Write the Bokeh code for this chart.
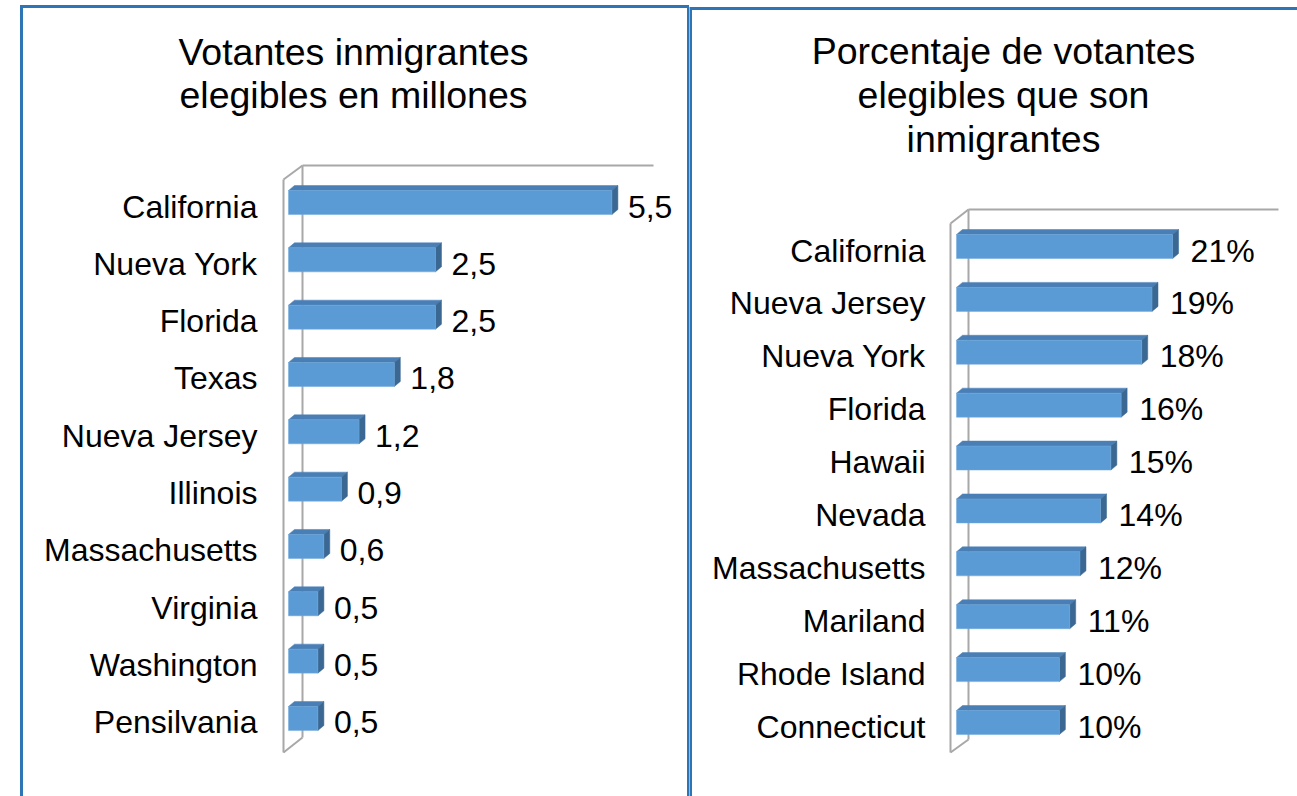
from bokeh.plotting import figure
from bokeh.layouts import row
from bokeh.models import Range1d
from bokeh.core.properties import value
from bokeh.embed import file_html
from bokeh.resources import INLINE

# ---------------- data ----------------
left_title = ["Votantes inmigrantes", "elegibles en millones"]
left_states = ["California", "Nueva York", "Florida", "Texas", "Nueva Jersey",
               "Illinois", "Massachusetts", "Virginia", "Washington", "Pensilvania"]
left_values = [5.5, 2.5, 2.5, 1.8, 1.2, 0.9, 0.6, 0.5, 0.5, 0.5]
left_labels = ["5,5", "2,5", "2,5", "1,8", "1,2", "0,9", "0,6", "0,5", "0,5", "0,5"]

right_title = ["Porcentaje de votantes", "elegibles que son", "inmigrantes"]
right_states = ["California", "Nueva Jersey", "Nueva York", "Florida", "Hawaii",
                "Nevada", "Massachusetts", "Mariland", "Rhode Island", "Connecticut"]
right_values = [21, 19, 18, 16, 15, 14, 12, 11, 10, 10]
right_labels = ["21%", "19%", "18%", "16%", "15%", "14%", "12%", "11%", "10%", "10%"]

# ---------------- style ----------------
FONT = value("Liberation Sans")
FRONT = "#5B9BD5"
TOP = "#4A7FB6"
SIDE = "#3B6893"
FRAME = "#A8A8A8"
BORDER = "#2E75B6"
PAGE_TOP, PAGE_BOTTOM = 0, 796


def panel(fig_left, fig_right, X0, K, Y0, S, states, values, labels,
          label_right_px, value_offset, title_lines, title_cx, title_ys,
          frame_segments, border_pts):
    W = fig_right - fig_left
    p = figure(width=W, height=PAGE_BOTTOM - PAGE_TOP,
               x_range=Range1d((fig_left - X0) / K, (fig_right - X0) / K),
               y_range=Range1d((PAGE_BOTTOM - Y0) / S, (PAGE_TOP - Y0) / S),
               output_backend="svg", toolbar_location=None, min_border=0,
               x_axis_type=None, y_axis_type=None)
    p.outline_line_color = None
    p.background_fill_color = "white"
    p.border_fill_color = "white"

    fx = lambda px: (px - X0) / K
    fy = lambda py: (py - Y0) / S

    # panel border
    p.line([fx(x) for x, _ in border_pts], [fy(y) for _, y in border_pts],
           line_color=BORDER, line_width=3, line_join="miter")

    # 3-D frame walls
    for (x1, y1), (x2, y2) in frame_segments:
        p.line([fx(x1), fx(x2)], [fy(y1), fy(y2)], line_color=FRAME, line_width=2)

    n = len(values)
    idx = list(range(n))
    ft = [i - 16 / S for i in idx]
    fb = [i + 8 / S for i in idx]
    dx = 6 / K
    dy = 5 / S

    top_xs = [[0, dx, v + dx, v] for v in values]
    top_ys = [[t, t - dy, t - dy, t] for t in ft]
    side_xs = [[v, v + dx, v + dx, v] for v in values]
    side_ys = [[t, t - dy, b - dy, b] for t, b in zip(ft, fb)]
    p.patches(top_xs, top_ys, fill_color=TOP, line_color=TOP, line_width=0.5)
    p.patches(side_xs, side_ys, fill_color=SIDE, line_color=SIDE, line_width=0.5)
    p.quad(left=[0] * n, right=values, top=ft, bottom=fb,
           fill_color=FRONT, line_color="#6FA8DC", line_width=0.5)

    # category labels
    p.text(x=[fx(label_right_px)] * n, y=idx, text=states, text_align="right",
           text_baseline="middle", text_font=FONT, text_font_size=value("32px"),
           text_color="black")
    # value labels
    p.text(x=values, y=idx, text=labels, x_offset=value_offset, text_align="left",
           text_baseline="middle", text_font=FONT, text_font_size=value("32px"),
           text_color="black")
    # title
    p.text(x=[fx(title_cx)] * len(title_lines), y=[fy(y) for y in title_ys],
           text=title_lines, text_align="center", text_baseline="middle",
           text_font=FONT, text_font_size=value("37.5px"), text_color="black")
    return p


p1 = panel(0, 689, 288, 58.8, 206, 57.33, left_states, left_values, left_labels,
           257, 16, left_title, 353, [51, 94],
           [((302, 165), (302, 737)), ((302, 165), (653, 165)),
            ((283, 179), (283, 752)), ((283, 179), (302, 165)),
            ((283, 752), (302, 737))],
           [(21, 800), (21, 6), (688, 6), (688, 800)])

p2 = panel(689, 1297, 956, 10.29, 250, 52.89, right_states, right_values, right_labels,
           925, 18, right_title, 1003, [50, 94, 138],
           [((968, 209), (968, 739)), ((968, 209), (1278, 209)),
            ((950, 223), (950, 752)), ((950, 223), (968, 209)),
            ((950, 752), (968, 739))],
           [(690, 800), (690, 8), (1300, 8)])

layout = row(p1, p2, spacing=0)
open("out.html", "w").write(file_html(layout, INLINE))
